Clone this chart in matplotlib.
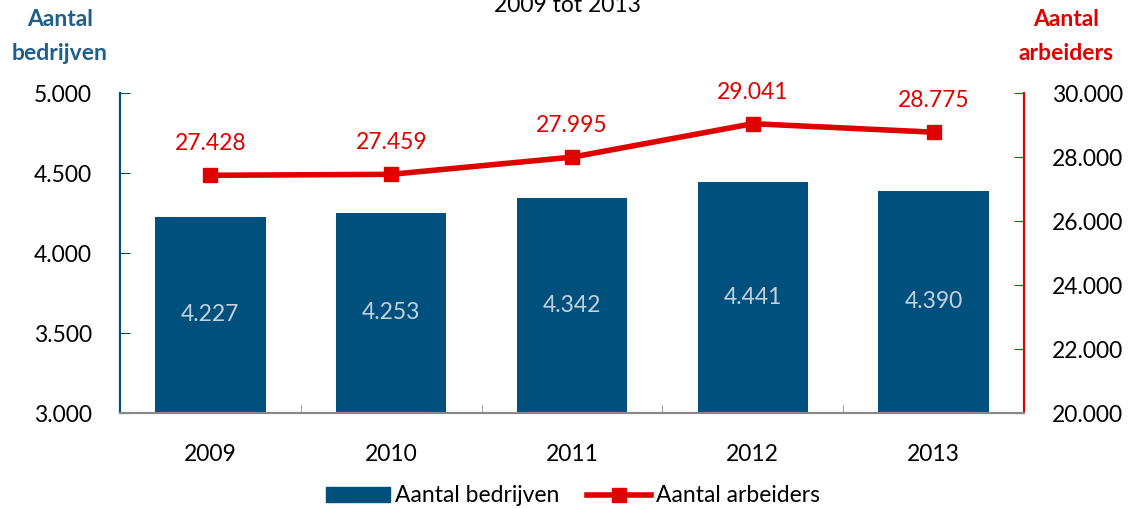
import matplotlib
matplotlib.use("Agg")
import matplotlib.pyplot as plt
from matplotlib.ticker import FuncFormatter, MultipleLocator, FixedLocator
from matplotlib.lines import Line2D
from matplotlib.patches import Patch

years = ["2009", "2010", "2011", "2012", "2013"]
bedrijven = [4227, 4253, 4342, 4441, 4390]
arbeiders = [27428, 27459, 27995, 29041, 28775]

BLUE = "#00507D"
RED = "#E00000"
LABEL_BLUE = "#1F5F8B"
FONT = ["Lato", "DejaVu Sans"]
FS = 16.5

plt.rcParams['font.family'] = FONT

def dot_fmt(v, _=None):
    return f"{int(round(v)):,}".replace(",", ".")

fig = plt.figure(figsize=(11.31, 5.08), dpi=100)
ax = fig.add_axes([120/1131, 1-413/508, (1024-120)/1131, (413-93)/508])
ax2 = ax.twinx()

x = list(range(len(years)))
bars = ax.bar(x, bedrijven, width=0.61, color=BLUE, zorder=2)
ax.set_xlim(-0.5, len(years)-0.5)
ax.set_ylim(3000, 5000)
ax.yaxis.set_major_locator(MultipleLocator(500))
ax.yaxis.set_major_formatter(FuncFormatter(dot_fmt))
ax.set_xticks(x)
ax.set_xticklabels(years)
ax.xaxis.set_minor_locator(FixedLocator([i + 0.5 for i in range(-1, len(years))]))
ax.tick_params(axis='x', which='major', length=0, pad=22, labelsize=FS)
ax.tick_params(axis='x', which='minor', length=6, direction='in', color='#888888')
ax.tick_params(axis='y', direction='in', length=7, color=BLUE, labelsize=FS, pad=20)

for b, v in zip(bars, bedrijven):
    ax.text(b.get_x() + b.get_width()/2, (3000 + v)/2, dot_fmt(v),
            ha='center', va='center', color='#C4D2DF', fontsize=FS, zorder=3)

ax2.plot(x, arbeiders, color=RED, lw=4, marker='s', markersize=10, zorder=4)
ax2.set_ylim(20000, 30000)
ax2.yaxis.set_major_locator(MultipleLocator(2000))
ax2.yaxis.set_major_formatter(FuncFormatter(dot_fmt))
ax2.tick_params(axis='y', direction='in', length=7, color=RED, labelsize=FS, pad=20)
for xi, v in zip(x, arbeiders):
    ax2.annotate(dot_fmt(v), (xi, v), xytext=(0, 15), textcoords='offset points',
                 ha='center', va='bottom', color=RED, fontsize=FS)

for a in (ax, ax2):
    a.spines['top'].set_visible(False)
    a.spines['left'].set_color(BLUE)
    a.spines['right'].set_color(RED)
    a.spines['bottom'].set_color('#888888')
    a.spines['left'].set_linewidth(1.5)
    a.spines['right'].set_linewidth(1.5)
    a.spines['bottom'].set_linewidth(1.5)

fig.text(60/1131, 1-20/508, "Aantal", ha='center', va='center', color=LABEL_BLUE,
         fontsize=FS, fontweight='bold')
fig.text(60/1131, 1-53/508, "bedrijven", ha='center', va='center', color=LABEL_BLUE,
         fontsize=FS, fontweight='bold')
fig.text(1066/1131, 1-20/508, "Aantal", ha='center', va='center', color=RED,
         fontsize=FS, fontweight='bold')
fig.text(1066/1131, 1-53/508, "arbeiders", ha='center', va='center', color=RED,
         fontsize=FS, fontweight='bold')

fig.text(567/1131, 1-12/508, "2009 tot 2013", ha='center', va='baseline',
         fontsize=FS, color='black')

handles = [Patch(color=BLUE, label="Aantal bedrijven"),
           Line2D([0], [0], color=RED, lw=4, marker='s', markersize=10, label="Aantal arbeiders")]
fig.legend(handles=handles, loc='center', bbox_to_anchor=(573/1131, 1-496/508), ncol=2,
           frameon=False, fontsize=FS, handlelength=2.8, handletextpad=0.2,
           columnspacing=1.2, handleheight=0.6)

fig.savefig("out.png", dpi=100)
